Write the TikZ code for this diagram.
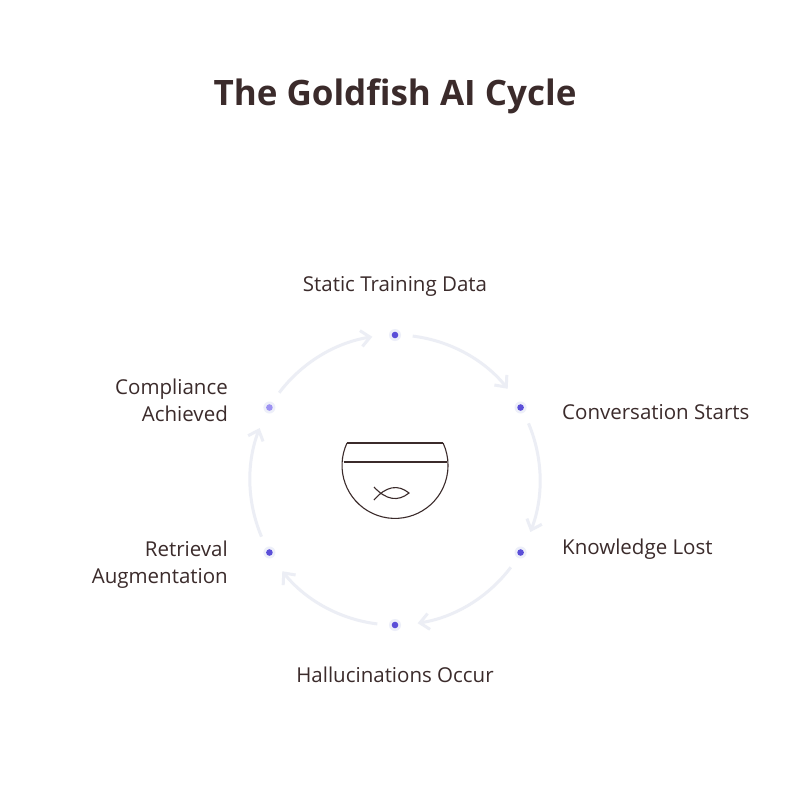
\documentclass[tikz,border=0pt]{standalone}
\usepackage{fontspec}
\setmainfont{Open Sans}
\usetikzlibrary{arrows.meta}
\definecolor{ink}{HTML}{3B2B2B}
\definecolor{arc}{HTML}{ECEEF5}
\definecolor{dotc}{HTML}{5B4FD8}
\definecolor{dotl}{HTML}{9D92F2}
\definecolor{halo}{HTML}{EDEFF9}
\tikzset{
  lbl/.style={font=\fontsize{20.5}{27}\selectfont, text=ink, inner sep=0pt},
  cyc/.style={draw=arc, line width=3pt, -{Straight Barb[length=9pt,width=16pt,line width=3pt]}},
}
\begin{document}
\begin{tikzpicture}[x=1pt,y=1pt]
\useasboundingbox (0,0) rectangle (800,-807);
\fill[white] (0,0) rectangle (800,-807);
\node[font=\fontsize{35}{40}\selectfont\bfseries, text=ink] (title) at (395,-96) {The Goldfish AI Cycle};
\coordinate (C) at (395,-480);
\foreach \t in {90,30,-30,-90,210,150}{
  \draw[cyc] ([shift={(C)}]\t-7:145) arc[start angle=\t-7, end angle=\t-51, radius=145];
}
\foreach \t/\n/\c in {90/d1/dotc,30/d2/dotc,-30/d3/dotc,-90/d4/dotc,210/d5/dotc,150/d6/dotl}{
  \fill[halo] ([shift={(C)}]\t:145) circle (6);
  \fill[\c] ([shift={(C)}]\t:145) circle (3.3);
  \coordinate (\n) at ([shift={(C)}]\t:145);
}
\node[lbl] (l1) at (395,-286) {Static Training Data};
\node[lbl, anchor=west] (l2) at (562,-412) {Conversation Starts};
\node[lbl, anchor=west] (l3) at (562,-549) {Knowledge Lost};
\node[lbl] (l4) at (395,-675) {Hallucinations Occur};
\node[lbl, anchor=east, align=right] (l5) at (228,-565) {Retrieval\\Augmentation};
\node[lbl, anchor=east, align=right] (l6) at (228,-400) {Compliance\\Achieved};
% bowl
\begin{scope}[draw=ink, line width=1.1pt]
\draw (347,-443) -- (443,-443);
\draw (343.5,-462) -- (446.5,-462);
\draw (347,-443) arc[start angle=155, end angle=385, radius=53];
\draw (374,-500) .. controls (386,-486) and (398,-484) .. (409,-493) .. controls (398,-502) and (386,-500) .. (374,-487);
\end{scope}
\end{tikzpicture}
\end{document}
